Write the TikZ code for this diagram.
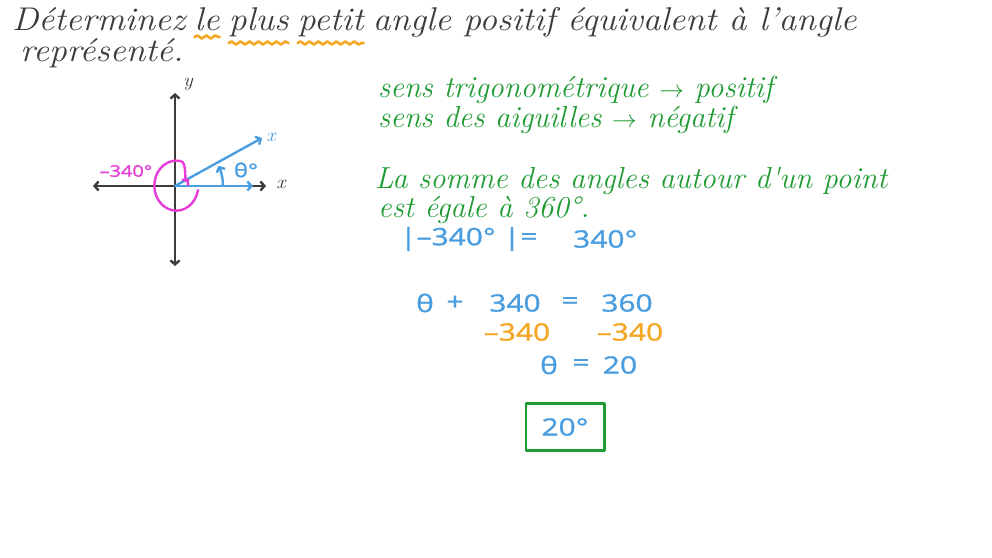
\documentclass[tikz,border=0pt]{standalone}
\usepackage{fontspec}
\setmainfont{Latin Modern Roman}[FakeStretch=1.08]
\newfontfamily\greenfont{Latin Modern Roman}
\newfontfamily\calcfont{Open Sans}[FakeStretch=1.25, FakeBold=1.2]
\usetikzlibrary{decorations.pathmorphing, arrows.meta}
\definecolor{inkgray}{HTML}{3C3C3C}
\definecolor{inkgreen}{HTML}{1E9B32}
\definecolor{inkblue}{HTML}{4A9EE0}
\definecolor{inkorange}{HTML}{F5A623}
\definecolor{inkpink}{HTML}{E63CD8}
\tikzset{
  hand/.style={anchor=base west, inner sep=0pt, text=inkgray, font=\fontsize{33}{35}\selectfont\itshape},
  greenhand/.style={anchor=west, inner sep=0pt, text=inkgreen, font=\fontsize{30.5}{32}\selectfont\greenfont\itshape},
  calc/.style={inner sep=0pt, text=inkblue, font=\fontsize{24}{26}\selectfont\calcfont},
  minus/.style={calc, text=inkorange},
  small/.style={inner sep=0pt, font=\fontsize{19}{19}\selectfont\itshape},
  axis/.style={inkgray, line width=2.4pt},
  ray/.style={inkblue, line width=2.4pt},
  wavy/.style={inkorange, line width=2.6pt, decorate,
    decoration={snake, amplitude=1.6pt, segment length=9pt}}
}
\begin{document}
\begin{tikzpicture}[x=1bp, y=-1bp, >={Straight Barb[length=4pt, width=9pt]}, line join=round, line cap=round]
    \useasboundingbox[fill=white] (0,0) rectangle (992,558);
    % question
    \node[hand] (w1) at (12,31) {Déterminez};
    \node[hand] (w2) at ([xshift=9bp]w1.base east) {le};
    \node[hand] (w3) at ([xshift=9bp]w2.base east) {plus};
    \node[hand] (w4) at ([xshift=9bp]w3.base east) {petit};
    \node[hand] (w5) at ([xshift=9bp]w4.base east) {angle positif équivalent à l'angle};
    \node[hand] (q2) at (20,62) {représenté.};
    \draw[wavy] ([yshift=-6bp]w2.base west)--([yshift=-6bp]w2.base east);
    \draw[wavy] ([yshift=-12bp]w3.base west)--([yshift=-12bp]w3.base east);
    \draw[wavy] ([yshift=-12bp]w4.base west)--([yshift=-12bp]w4.base east);
    % axes
    \coordinate (O) at (175,186);
    \coordinate (xl) at (93,186);  \coordinate (xr) at (266,186);
    \coordinate (yt) at (175,93);  \coordinate (yb) at (175,266);
    \draw[axis,<->] (xl)--(xr);
    \draw[axis,<->] (yb)--(yt);
    \node[small, text=inkgray] (ylab) at (188,84) {y};
    \node[small, text=inkgray] (xlab) at (281,184) {x};
    % terminal side and angle
    \coordinate (P) at (262,138);
    \draw[ray,->] (O)--(253,186);
    \draw[ray,->] (O)--(P);
    \node[small, text=inkblue] (xplab) at (271,137) {x};
    \draw[ray,->] (O) ++(0:48) arc[start angle=0, end angle=-25, radius=48];
    \node[calc, font=\fontsize{19}{19}\selectfont\calcfont] (theta) at (246,170) {θ°};
    \draw[inkpink, line width=2.4pt, ->] (O) ++(23,4)
        arc[start angle=10, end angle=280, x radius=22, y radius=25]
        to[out=0, in=-135] (189,179);
    \node[calc, text=inkpink, font=\fontsize{16}{16}\selectfont\calcfont] (neg) at (126,171) {–340°};
    % rules
    \node[greenhand] (r1) at (378,90) {sens trigonométrique $\to$ positif};
    \node[greenhand] (r2) at (378,120) {sens des aiguilles $\to$ négatif};
    \node[greenhand] (r3) at (375,181) {La somme des angles autour d'un point};
    \node[greenhand] (r4) at (378,210) {est égale à 360°.};
    % working
    \node[calc, anchor=west] (ab1) at (400,239) {|–340°};
    \node[calc] (ab2) at (512,239) {|};
    \node[calc] (ab3) at (529,239) {=};
    \node[calc, anchor=west] (absv) at (573,239) {340°};
    \node[calc] (t1) at (425,303) {θ};
    \node[calc] (p1) at (455,303) {+};
    \node[calc] (a1) at (515,303) {340};
    \node[calc] (e1) at (570,303) {=};
    \node[calc] (b1) at (627,303) {360};
    \node[minus] (m1) at (517,332) {–340};
    \node[minus] (m2) at (630,332) {–340};
    \node[calc] (t2) at (549,365) {θ};
    \node[calc] (e2) at (581,365) {=};
    \node[calc] (res) at (620,365) {20};
    \node[calc, draw=inkgreen, line width=3pt, minimum width=78bp, minimum height=47bp] (ans) at (565,427) {20°};
\end{tikzpicture}
\end{document}
